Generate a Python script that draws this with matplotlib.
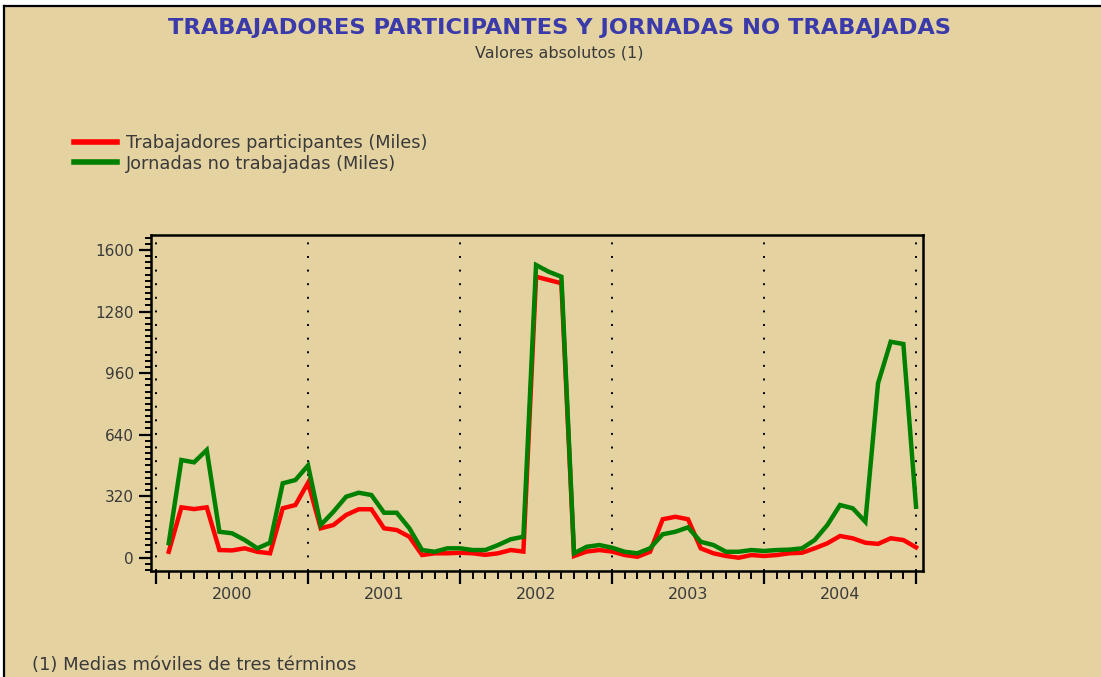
import matplotlib.pyplot as plt
from matplotlib.lines import Line2D
from matplotlib.ticker import MultipleLocator

# Monthly values, Jan 2000 .. Dec 2004 (three-term moving averages, thousands)
months = list(range(1, 61))
years = ["2000", "2001", "2002", "2003", "2004"]

trabajadores = [31, 262, 253, 262, 40, 38, 49, 31, 23, 257, 274, 390,
                153, 170, 222, 252, 252, 153, 144, 109, 14, 23, 23, 26,
                23, 15, 23, 40, 32, 1461, 1444, 1427, 9, 32, 40, 32,
                14, 5, 31, 200, 213, 200, 49, 23, 9, 0, 14, 9,
                14, 23, 26, 49, 75, 113, 101, 78, 72, 101, 92, 54]

jornadas = [76, 508, 496, 560, 135, 127, 92, 49, 78, 387, 404, 480,
            170, 239, 317, 338, 326, 234, 234, 153, 40, 31, 49, 49,
            40, 40, 66, 96, 109, 1522, 1487, 1461, 23, 57, 66, 52,
            31, 23, 49, 122, 135, 158, 83, 66, 31, 31, 40, 35,
            40, 42, 49, 92, 170, 274, 257, 187, 907, 1123, 1111, 265]

bg = '#e4d2a1'
txt = '#3a3a3a'

fig = plt.figure(figsize=(11.01, 6.77), dpi=100)
fig.patch.set_facecolor('white')

# beige panel with black top/left border
fig.patches.append(plt.Rectangle((5 / 1101, 0), 1, 1 - 7 / 677, transform=fig.transFigure,
                                 facecolor=bg, edgecolor='none', zorder=-10))
fig.add_artist(Line2D([4 / 1101, 4 / 1101], [0, 1 - 6 / 677], transform=fig.transFigure,
                      color='black', lw=1.6))
fig.add_artist(Line2D([4 / 1101, 1], [1 - 6 / 677, 1 - 6 / 677], transform=fig.transFigure,
                      color='black', lw=1.6))

ax = fig.add_axes([151 / 1101, 1 - 571 / 677, (923 - 151) / 1101, (571 - 235) / 677])
ax.set_facecolor(bg)

ax.plot(months, trabajadores, color='#ff0000', lw=3.2, solid_joinstyle='miter')
ax.plot(months, jornadas, color='#008000', lw=3.2, solid_joinstyle='miter')

for xb in range(0, 61, 12):
    ax.axvline(xb, color='black', ls=(0, (1, 6)), lw=1.4, zorder=0)

ax.set_xlim(-0.4, 60.55)
ax.set_ylim(-69, 1678)

ax.set_yticks(range(0, 1601, 320))
ax.yaxis.set_minor_locator(MultipleLocator(32))
ax.set_xticks(range(0, 61, 12))
ax.set_xticklabels([])
ax.xaxis.set_minor_locator(MultipleLocator(1))

ax.tick_params(axis='both', which='major', direction='out', length=9, width=1.6,
               colors='black', labelcolor=txt, labelsize=11)
ax.tick_params(axis='both', which='minor', direction='out', length=6, width=1.4, colors='black')
ax.tick_params(axis='y', which='minor', length=4)
for s in ax.spines.values():
    s.set_linewidth(1.8)

for i, y in enumerate(years):
    ax.text(6 + 12 * i, -0.07, y, transform=ax.get_xaxis_transform(),
            ha='center', va='center', fontsize=11.5, color=txt)

fig.text(0.508, 0.958, 'TRABAJADORES PARTICIPANTES Y JORNADAS NO TRABAJADAS',
         ha='center', va='center', fontsize=16.2, fontweight='bold', color='#3a3aaa')
fig.text(0.508, 0.921, 'Valores absolutos (1)', ha='center', va='center',
         fontsize=11.5, color=txt)

handles = [Line2D([], [], color='#ff0000', lw=4), Line2D([], [], color='#008000', lw=4)]
fig.legend(handles, ['Trabajadores participantes (Miles)', 'Jornadas no trabajadas (Miles)'],
           loc='upper left', bbox_to_anchor=(74 / 1101, 1 - 134 / 677), frameon=False,
           fontsize=12.8, labelcolor=txt, handlelength=2.4, handletextpad=0.5,
           labelspacing=0.15, borderaxespad=0, borderpad=0)

fig.text(32 / 1101, 1 - 665 / 677, '(1) Medias móviles de tres términos',
         ha='left', va='center', fontsize=13, color=txt)

fig.savefig('out.png', dpi=100, facecolor=fig.get_facecolor())
